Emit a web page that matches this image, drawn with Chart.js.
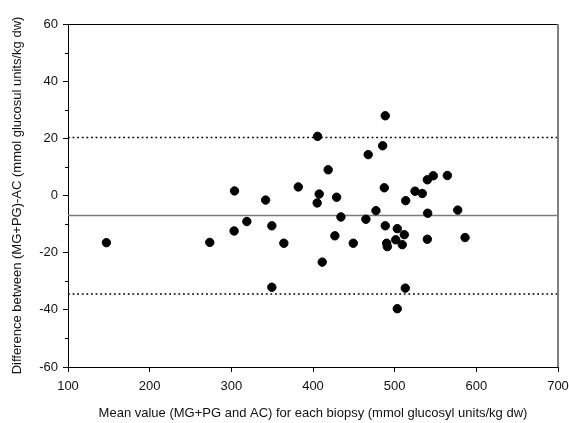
<!DOCTYPE html>
<html>
<head>
<meta charset="utf-8">
<style>
  html, body { margin: 0; padding: 0; background: #fff; }
  canvas { display: block; }
</style>
<script src="https://cdn.jsdelivr.net/npm/chart.js@4/dist/chart.umd.min.js"></script>
</head>
<body>
<canvas id="chart" width="569" height="423"></canvas>
<script>
// mean of the two methods for each biopsy
const meanValues = [
  147, 273.6, 303.4, 303.9, 319, 342, 349.6, 349.6, 364.3, 382,
  405.6, 418.6, 407.6, 405.1, 428.9, 434.2, 426.8, 411.3, 449.3, 464.8,
  467.6, 477.1, 485.3, 488.5, 487.3, 488.5, 490.2, 491, 501.3, 503.2,
  509.3, 511.8, 513.5, 513, 503.2, 524.9, 533.8, 540, 547.3, 564.5,
  540.4, 540, 577.2, 586.2
];
// difference (MG+PG)-AC
const differences = [
  -16.5, -16.4, -12.4, 1.6, -9.1, -1.6, -10.6, -32.1, -16.7, 3.0,
  20.7, 9.0, 0.5, -2.6, -0.6, -7.5, -14.1, -23.3, -16.7, -8.3,
  14.3, -5.3, 17.4, 27.9, 2.7, -10.6, -16.7, -17.9, -15.5, -11.6,
  -17.2, -13.7, -1.8, -32.4, -39.6, 1.5, 0.7, 5.5, 6.9, 7.0,
  -6.2, -15.3, -5.1, -14.7
];

const meanDiff = -7.0;
const upperLimit = 20.3;
const lowerLimit = -34.5;

const xTicks = [100, 200, 300, 400, 500, 600, 700];
const yTicks = [-60, -40, -20, 0, 20, 40, 60];
const yMinorTicks = [-50, -30, -10, 10, 30, 50];

Chart.defaults.font.family = "'Liberation Sans', Arial, sans-serif";
Chart.defaults.font.size = 13;
Chart.defaults.color = "#111";

const points = meanValues.map((x, i) => ({ x, y: differences[i] }));

function hLine(y) {
  return [{ x: xTicks[0], y }, { x: xTicks[xTicks.length - 1], y }];
}

const frame = {
  id: "frame",
  afterDraw(chart) {
    const ctx = chart.ctx;
    const ca = chart.chartArea;
    const yScale = chart.scales.y;
    ctx.save();
    // top border
    ctx.strokeStyle = "#000";
    ctx.lineWidth = 1;
    ctx.beginPath();
    ctx.moveTo(ca.left, ca.top + 0.5);
    ctx.lineTo(ca.right, ca.top + 0.5);
    ctx.stroke();
    // right border
    ctx.strokeStyle = "#808080";
    ctx.lineWidth = 2;
    ctx.beginPath();
    ctx.moveTo(ca.right, ca.top);
    ctx.lineTo(ca.right, ca.bottom);
    ctx.stroke();
    // minor y ticks
    ctx.strokeStyle = "#000";
    ctx.lineWidth = 1;
    yMinorTicks.forEach(v => {
      const py = Math.round(yScale.getPixelForValue(v)) + 0.5;
      ctx.beginPath();
      ctx.moveTo(ca.left - 3, py);
      ctx.lineTo(ca.left, py);
      ctx.stroke();
    });
    ctx.restore();
  }
};

new Chart(document.getElementById("chart"), {
  type: "scatter",
  data: {
    datasets: [
      {
        data: points,
        backgroundColor: "#000",
        borderColor: "#000",
        pointRadius: 4.2,
        pointHoverRadius: 4.2,
        order: 0
      },
      {
        type: "line",
        data: hLine(meanDiff),
        borderColor: "#7a7a7a",
        borderWidth: 1.5,
        pointRadius: 0,
        order: 1
      },
      {
        type: "line",
        data: hLine(upperLimit),
        borderColor: "#000",
        borderWidth: 1.5,
        borderDash: [1.8, 2.8],
        pointRadius: 0,
        order: 1
      },
      {
        type: "line",
        data: hLine(lowerLimit),
        borderColor: "#000",
        borderWidth: 1.5,
        borderDash: [1.8, 2.8],
        pointRadius: 0,
        order: 1
      }
    ]
  },
  options: {
    responsive: false,
    animation: false,
    events: [],
    layout: { padding: { top: 24, right: 11, left: 0, bottom: 0 } },
    plugins: {
      legend: { display: false },
      tooltip: { enabled: false }
    },
    scales: {
      x: {
        type: "linear",
        min: 100,
        max: 700,
        afterBuildTicks: s => { s.ticks = xTicks.map(v => ({ value: v })); },
        afterFit: s => { s.height = 56; s.paddingLeft = 0; s.paddingRight = 0; },
        grid: { drawOnChartArea: false, color: "#000", tickLength: 5 },
        border: { color: "#000", width: 1 },
        ticks: { padding: 7, color: "#111" },
        title: {
          display: true,
          text: "Mean value (MG+PG and AC) for each biopsy (mmol glucosyl units/kg dw)",
          color: "#111",
          padding: { top: 4, bottom: 2 }
        }
      },
      y: {
        type: "linear",
        min: -60,
        max: 60,
        afterBuildTicks: s => { s.ticks = yTicks.map(v => ({ value: v })); },
        afterFit: s => { s.width = 68; s.paddingTop = 0; s.paddingBottom = 0; },
        grid: { drawOnChartArea: false, color: "#000", tickLength: 5 },
        border: { color: "#000", width: 1 },
        ticks: { padding: 5, color: "#111" },
        title: {
          display: true,
          text: "Difference between (MG+PG)-AC (mmol glucosul units/kg dw)",
          color: "#111",
          padding: { top: 10, bottom: 4 }
        }
      }
    }
  },
  plugins: [frame]
});
</script>
</body>
</html>
